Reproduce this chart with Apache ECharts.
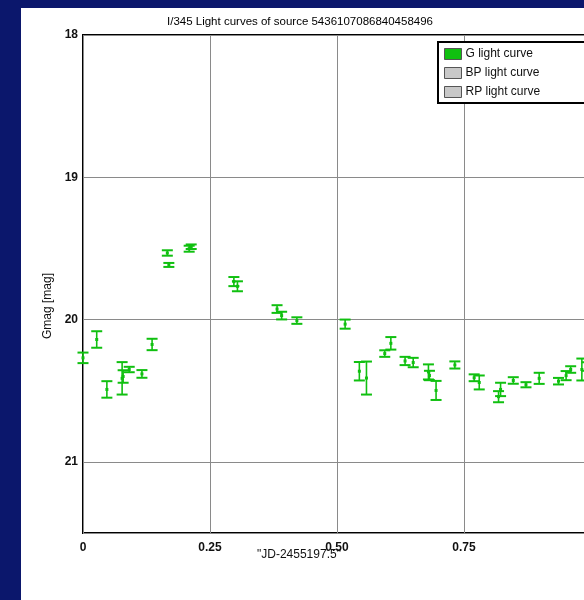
<!DOCTYPE html>
<html>
<head>
<meta charset="utf-8">
<script src="https://cdn.jsdelivr.net/npm/echarts@6/dist/echarts.min.js"></script>
<style>
html,body{margin:0;padding:0;width:584px;height:600px;background:#0b176c;overflow:hidden;}
#c{position:absolute;left:21px;top:8px;width:563px;height:592px;background:#fff;}
</style>
</head>
<body>
<div id="c"></div>
<script>
// Observation time (JD-2455197.5, folded), G magnitude, error
var gTime = [0.000,0.027,0.047,0.077,0.079,0.091,0.116,0.136,0.166,0.169,0.209,0.213,0.297,0.304,0.382,0.391,0.421,0.516,0.544,0.558,0.594,0.606,0.634,0.650,0.680,0.682,0.695,0.732,0.770,0.780,0.818,0.822,0.847,0.872,0.898,0.936,0.951,0.960,0.982,0.992];
var gMag  = [20.269,20.140,20.491,20.413,20.400,20.351,20.382,20.175,19.532,19.616,19.502,19.488,19.733,19.766,19.926,19.972,20.007,20.032,20.363,20.411,20.239,20.167,20.291,20.302,20.368,20.393,20.498,20.319,20.409,20.442,20.542,20.491,20.428,20.458,20.413,20.433,20.394,20.351,20.351,20.330];
var gErr  = [0.037,0.058,0.058,0.114,0.044,0.019,0.027,0.040,0.019,0.014,0.021,0.016,0.032,0.035,0.027,0.027,0.023,0.032,0.065,0.116,0.023,0.044,0.029,0.033,0.053,0.033,0.067,0.025,0.024,0.049,0.039,0.047,0.023,0.018,0.039,0.023,0.032,0.023,0.077,0.030];
var seriesNames = ['G light curve','BP light curve','RP light curve'];
var seriesColors = ['#10c010','#c8c8c8','#c8c8c8'];
var xTickLabels = {'0':'0','0.25':'0.25','0.5':'0.50','0.75':'0.75','1':''};
var yTicks = [18,19,20,21];
var titleText = 'I/345 Light curves of source 5436107086840458496';
var xName = '"JD-2455197.5"';
var yName = 'Gmag [mag]';

var gData = gTime.map(function(t,i){return [t,gMag[i],gErr[i]];});

function renderErr(params, api){
  var x = api.value(0), y = api.value(1), e = api.value(2);
  var p = api.coord([x,y]);
  var t = api.coord([x,y-e]);
  var b = api.coord([x,y+e]);
  var hw = 5.5;
  var col = seriesColors[0];
  var ls = {stroke:col, lineWidth:1.6};
  return {type:'group', children:[
    {type:'line', shape:{x1:p[0],y1:t[1],x2:p[0],y2:b[1]}, style:ls},
    {type:'line', shape:{x1:p[0]-hw,y1:t[1],x2:p[0]+hw,y2:t[1]}, style:{stroke:col,lineWidth:2}},
    {type:'line', shape:{x1:p[0]-hw,y1:b[1],x2:p[0]+hw,y2:b[1]}, style:{stroke:col,lineWidth:2}},
    {type:'rect', shape:{x:p[0]-1.5,y:p[1]-1.5,width:3,height:3}, style:{fill:col}}
  ]};
}

var chart = echarts.init(document.getElementById('c'), null, {renderer:'canvas'});
chart.setOption({
  backgroundColor:'#ffffff',
  animation:false,
  textStyle:{fontFamily:'Liberation Sans, Arial, sans-serif'},
  title:{text:titleText, left:141, top:3,
    textStyle:{fontSize:11.5, fontWeight:'normal', color:'#000', fontFamily:'Liberation Sans'}},
  grid:{left:62, top:27, width:508, height:498, show:true, borderColor:'#000', borderWidth:2,
    containLabel:false, outerBoundsMode:'none'},
  legend:{orient:'vertical', left:417, top:34, data:seriesNames,
    backgroundColor:'#fff', borderColor:'#000', borderWidth:2,
    padding:[6,60,5,6], itemGap:7, itemWidth:17, itemHeight:11, icon:'rect',
    itemStyle:{borderColor:'#555', borderWidth:1},
    textStyle:{fontSize:12, color:'#111', fontFamily:'Liberation Sans', padding:[0,0,0,-1]},
    selectedMode:false},
  xAxis:{type:'value', min:0, max:1, interval:0.25,
    axisLine:{show:false}, axisTick:{show:false},
    splitLine:{show:true, lineStyle:{color:'#8a8a8a', width:1}},
    axisLabel:{margin:9, fontSize:12, fontWeight:'bold', color:'#111',
      formatter:function(v){var k=String(+v.toFixed(2)); return xTickLabels[k]!==undefined?xTickLabels[k]:k;}}},
  yAxis:{type:'value', inverse:true, min:18, max:21.5, interval:1,
    axisLine:{show:false}, axisTick:{show:false},
    splitLine:{show:true, lineStyle:{color:'#8a8a8a', width:1}},
    axisLabel:{margin:5, fontSize:12, fontWeight:'bold', color:'#111',
      formatter:function(v){return yTicks.indexOf(v)>=0?String(v):'';}}},
  graphic:[
    {type:'text', x:236, y:541, style:{text:xName, fontSize:12, fill:'#111', fontFamily:'Liberation Sans'}},
    {type:'text', x:27, y:298, rotation:Math.PI/2, style:{text:yName, fontSize:12, fill:'#111', fontFamily:'Liberation Sans', align:'center', verticalAlign:'middle'}}
  ],
  series:[
    {name:seriesNames[0], type:'custom', renderItem:renderErr, data:gData, clip:false,
      encode:{x:0,y:1}, itemStyle:{color:seriesColors[0]}},
    {name:seriesNames[1], type:'custom', renderItem:function(){return null;}, data:[], itemStyle:{color:seriesColors[1]}},
    {name:seriesNames[2], type:'custom', renderItem:function(){return null;}, data:[], itemStyle:{color:seriesColors[2]}}
  ]
});
</script>
</body>
</html>
